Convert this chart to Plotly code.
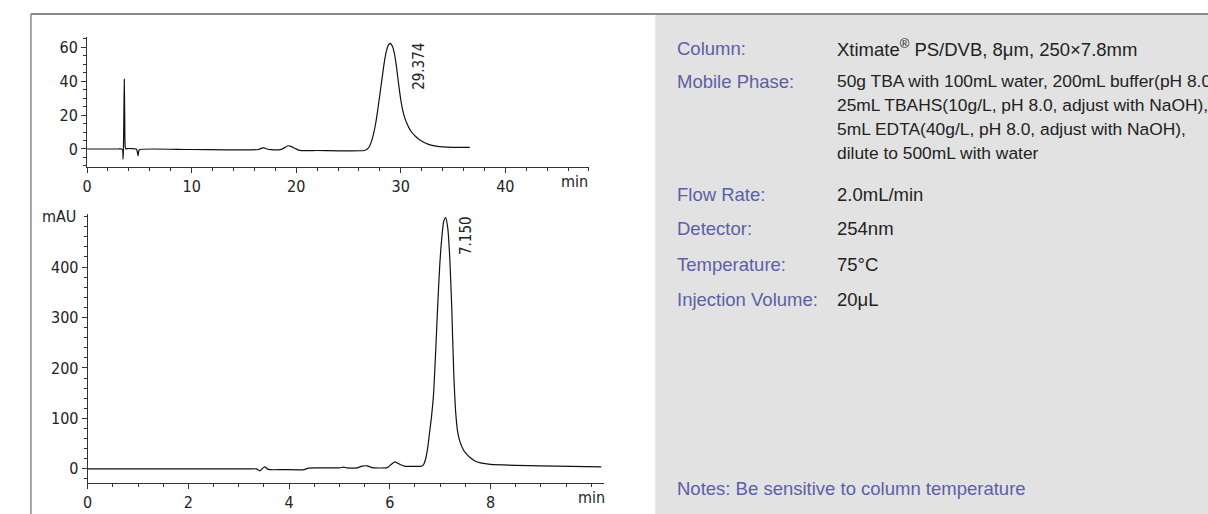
import plotly.graph_objects as go

# chromatogram 1 (top): retention time (min) / absorbance (mAU)
t_top = [0, 1.5, 3.0, 3.3, 3.40, 3.44, 3.48, 3.52, 3.56, 3.60, 3.64, 3.70, 3.80, 4.70, 4.80, 4.88, 4.95, 5.05,
         10, 16.4, 16.7, 16.9, 17.2, 17.6, 18.5, 18.9, 19.2, 19.5, 19.9, 20.3, 22, 26.5,
         26.8, 27.0, 27.2, 27.4, 27.6, 27.8, 28.0, 28.2, 28.4, 28.6, 28.8, 29.0,
         29.2, 29.4, 29.6, 29.8, 30.0, 30.2, 30.4, 30.6, 30.8, 31.0, 31.4, 31.8,
         32.2, 32.6, 33.0, 33.5, 34.0, 35.0, 36.6]
y_top = [0, 0, 0, 0, -0.5, -6, 0, 20, 41, 20, 2, 0, 0.2, 0, -1.5, -4, -1, -0.3,
         -0.3, -0.3, 0.5, 0.6, 0, -0.4, -0.4, 0.8, 1.9, 1.5, 0.3, -0.8, -0.9, -0.9,
         0, 1.5, 4.5, 9, 15, 23, 32, 41, 50, 57, 61, 62.2,
         60.5, 56, 48, 38, 29, 22.5, 18, 14.8, 12.3, 10.3, 7.5, 5.5,
         4, 2.9, 2.1, 1.5, 1.2, 1.0, 1.0]

# chromatogram 2 (bottom)
t_bot = [0, 1.5, 3.0, 3.25, 3.35, 3.42, 3.47, 3.52, 3.57, 3.62, 3.9, 4.30, 4.38, 4.7, 5.0, 5.08, 5.15,
         5.35, 5.45, 5.55, 5.65, 5.95, 6.02, 6.10, 6.20, 6.30, 6.45, 6.60, 6.66, 6.71, 6.75, 6.79,
         6.83, 6.87, 6.91, 6.95, 6.99, 7.03, 7.07, 7.11, 7.15, 7.19, 7.23, 7.27, 7.31, 7.35,
         7.40, 7.45, 7.50, 7.60, 7.70, 7.80, 8.0, 8.5, 9.0, 9.6, 10.2]
y_bot = [0, 0, 0, 0, 0, -4, 1, 4, 0, -1.5, -1.5, -1.5, 1.5, 1.8, 2, 3.5, 2,
         2, 5.5, 6, 2.5, 2.5, 8, 14, 9, 5, 5, 5, 7, 19, 40, 72,
         105, 150, 230, 320, 400, 455, 490, 498, 478, 420, 320, 190, 110, 72,
         52, 40, 32, 22, 15, 12, 9, 7, 6, 5, 4]

peak_top = "29.374"
peak_bot = "7.150"

labels = ["Column:", "Mobile Phase:", "Flow Rate:", "Detector:", "Temperature:", "Injection Volume:"]
values = ["Xtimate<sup>®</sup> PS/DVB, 8μm, 250×7.8mm",
          ["50g TBA with 100mL water, 200mL buffer(pH 8.0),",
           "25mL TBAHS(10g/L, pH 8.0, adjust with NaOH),",
           "5mL EDTA(40g/L, pH 8.0, adjust with NaOH),",
           "dilute to 500mL with water"],
          "2.0mL/min", "254nm", "75°C", "20μL"]
note = "Notes: Be sensitive to column temperature"

W, H = 1208, 514
def px(x): return x / W
def py(y): return 1 - y / H

tick_font = dict(family="DejaVu Sans Condensed, Liberation Sans Narrow, Roboto", size=16, color="#222")
line_col = "#111"

fig = go.Figure()
fig.add_trace(go.Scatter(x=t_top, y=y_top, mode="lines",
                         line=dict(color=line_col, width=1.2, shape="spline", smoothing=0.6),
                         xaxis="x", yaxis="y", showlegend=False, hoverinfo="skip"))
fig.add_trace(go.Scatter(x=t_bot, y=y_bot, mode="lines",
                         line=dict(color=line_col, width=1.2, shape="spline", smoothing=0.6),
                         xaxis="x2", yaxis="y2", showlegend=False, hoverinfo="skip"))

ax = dict(showline=True, linecolor="#333", linewidth=1, ticks="outside", ticklen=5,
          tickcolor="#333", showgrid=False, zeroline=False, tickfont=tick_font, fixedrange=True)

fig.update_layout(
    width=W, height=H, margin=dict(l=0, r=0, t=0, b=0),
    paper_bgcolor="white", plot_bgcolor="white",
    xaxis=dict(ax, domain=[px(82.4), px(586.4)], range=[0, 48], tickvals=[0, 10, 20, 30, 40],
               minor=dict(dtick=2, ticks="outside", ticklen=3, tickcolor="#333"), anchor="y"),
    yaxis=dict(ax, domain=[py(167), py(36.7)], range=[-10.6, 66.1], tickvals=[0, 20, 40, 60],
               minor=dict(dtick=5, ticks="outside", ticklen=3, tickcolor="#333"), anchor="x"),
    xaxis2=dict(ax, domain=[px(83), px(601.3)], range=[0, 10.25], tickvals=[0, 2, 4, 6, 8],
                minor=dict(dtick=0.5, ticks="outside", ticklen=3, tickcolor="#333"), anchor="y2"),
    yaxis2=dict(ax, domain=[py(483), py(213.5)], range=[-28, 506], tickvals=[0, 100, 200, 300, 400],
                minor=dict(dtick=20, ticks="outside", ticklen=3, tickcolor="#333"), anchor="x2"),
)

shapes = [
    dict(type="rect", xref="paper", yref="paper", x0=px(653), x1=1, y0=0, y1=py(15),
         fillcolor="#e2e2e2", line=dict(width=0), layer="below"),
    dict(type="line", xref="paper", yref="paper", x0=px(26), x1=1, y0=py(14), y1=py(14),
         line=dict(color="#8a8a8a", width=2)),
    dict(type="line", xref="paper", yref="paper", x0=px(26), x1=px(26), y0=0, y1=py(14),
         line=dict(color="#8a8a8a", width=1.5)),
]

ann = []
# axis unit labels
ann.append(dict(text="min", x=46.6, xref="x", y=py(181), yref="paper", xanchor="center", yanchor="middle",
                showarrow=False, font=tick_font))
ann.append(dict(text="min", x=10.0, xref="x2", y=py(497), yref="paper", xanchor="center", yanchor="middle",
                showarrow=False, font=tick_font))
ann.append(dict(text="mAU", x=px(54), xref="paper", y=py(216), yref="paper", xanchor="center", yanchor="middle",
                showarrow=False, font=tick_font))
# peak retention times
pk_font = dict(family="DejaVu Sans Condensed, Liberation Sans Narrow, Roboto", size=15, color="#222")
ann.append(dict(text=peak_top, x=31.74, xref="x", y=48.9, yref="y", textangle=-90, showarrow=False, font=pk_font))
ann.append(dict(text=peak_bot, x=7.51, xref="x2", y=463, yref="y2", textangle=-90, showarrow=False, font=pk_font))

lab_font = dict(family="Liberation Sans, Arial", size=18.5, color="#5b5fa8")
val_font = dict(family="Liberation Sans, Arial", size=17.4, color="#222")
big_val = dict(val_font, size=18.5)
row_y = [48, 81, 194, 229, 264, 299]
for lab, val, yy in zip(labels, values, row_y):
    ann.append(dict(text=lab, x=px(673), y=py(yy), xref="paper", yref="paper", xanchor="left",
                    yanchor="middle", showarrow=False, font=lab_font))
    lines = val if isinstance(val, list) else [val]
    for i, ln in enumerate(lines):
        ann.append(dict(text=ln, x=px(833), y=py(yy + 24 * i), xref="paper", yref="paper", xanchor="left",
                        yanchor="middle", showarrow=False, font=val_font if len(lines) > 1 else big_val))
ann.append(dict(text=note, x=px(673), y=py(488), xref="paper", yref="paper", xanchor="left",
                yanchor="middle", showarrow=False, font=lab_font))

fig.update_layout(shapes=shapes, annotations=ann)
fig.write_html("out.html", config={"displayModeBar": False},
               post_script="document.body.style.margin='0';document.body.style.overflow='hidden';")
